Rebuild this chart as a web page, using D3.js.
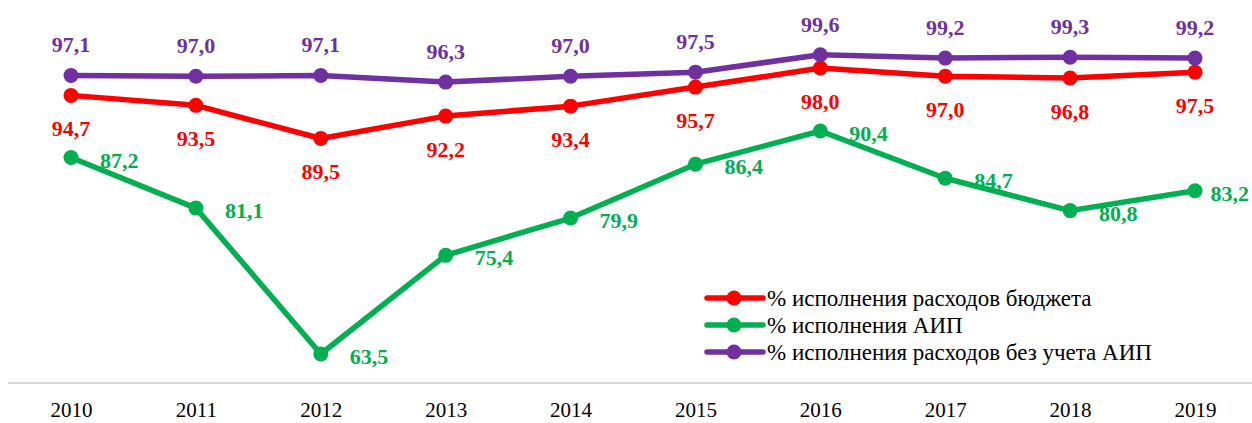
<!DOCTYPE html>
<html>
<head>
<meta charset="utf-8">
<script src="https://cdn.jsdelivr.net/npm/d3@7"></script>
<style>
  body { margin: 0; background: #fff; }
  svg { display: block; }
  svg text { font-family: "Liberation Serif", "DejaVu Serif", "Times New Roman", serif; }
</style>
</head>
<body>
<div id="chart"></div>
<script>
const years = ["2010", "2011", "2012", "2013", "2014", "2015", "2016", "2017", "2018", "2019"];
const budgetValues = [94.7, 93.5, 89.5, 92.2, 93.4, 95.7, 98.0, 97.0, 96.8, 97.5];
const aipValues = [87.2, 81.1, 63.5, 75.4, 79.9, 86.4, 90.4, 84.7, 80.8, 83.2];
const noAipValues = [97.1, 97.0, 97.1, 96.3, 97.0, 97.5, 99.6, 99.2, 99.3, 99.2];
const seriesNames = [
  "% исполнения расходов бюджета",
  "% исполнения АИП",
  "% исполнения расходов без учета АИП",
];

const width = 1252;
const height = 423;
const padding = { top: 10, bottom: 40, left: 8 };

const series = [
  { name: seriesNames[0], values: budgetValues, color: "#ff0000", pos: "below" },
  { name: seriesNames[1], values: aipValues, color: "#00b050", pos: "right" },
  { name: seriesNames[2], values: noAipValues, color: "#7030a0", pos: "above" },
];

const svg = d3
  .select("#chart")
  .append("svg")
  .attr("width", width)
  .attr("height", height);

const x = d3
  .scalePoint()
  .domain(years)
  .range([71, 1195]);

const y = d3
  .scaleLinear()
  .domain([60, 105])
  .range([height - padding.bottom, padding.top]);

// ось X
svg
  .append("line")
  .attr("x1", padding.left)
  .attr("x2", width)
  .attr("y1", y(60))
  .attr("y2", y(60))
  .attr("stroke", "#d9d9d9")
  .attr("stroke-width", 2);

const xAxis = d3.axisBottom(x).tickSize(0).tickPadding(0);
const gx = svg
  .append("g")
  .attr("transform", `translate(0,${y(60)})`)
  .call(xAxis);
gx.attr("font-family", null);
gx.select(".domain").remove();
gx.selectAll("text")
  .attr("dy", null)
  .attr("y", 34)
  .attr("fill", "#000")
  .attr("font-size", "21px");

const line = d3
  .line()
  .x((d, i) => x(years[i]))
  .y((d) => y(d));

series.forEach(function (s) {
  svg
    .append("path")
    .datum(s.values)
    .attr("fill", "none")
    .attr("stroke", s.color)
    .attr("stroke-width", 5.5)
    .attr("stroke-linejoin", "round")
    .attr("d", line);

  svg
    .append("g")
    .selectAll("circle")
    .data(s.values)
    .enter()
    .append("circle")
    .attr("cx", (d, i) => x(years[i]))
    .attr("cy", (d) => y(d))
    .attr("r", 7.5)
    .attr("fill", s.color);

  svg
    .append("g")
    .selectAll("text")
    .data(s.values)
    .enter()
    .append("text")
    .attr("text-anchor", s.pos === "right" ? "start" : "middle")
    .attr("fill", s.color)
    .attr("font-weight", "bold")
    .attr("font-size", "22px")
    .text((d) => d.toFixed(1).replace(".", ","))
    .attr("y", function (d) {
      if (s.pos === "above") return y(d) - 23;
      if (s.pos === "below") return y(d) + 41;
      return y(d) + 10;
    })
    .attr("x", function (d, i) {
      if (s.pos !== "right") return x(years[i]);
      // последняя подпись прижимается к краю
      const w = this.getComputedTextLength();
      return Math.min(x(years[i]) + 29, width - w - 3);
    });
});

// легенда
const legend = svg
  .append("g")
  .attr("transform", "translate(707,298)");

series.forEach(function (s, i) {
  const g = legend.append("g").attr("transform", `translate(0,${i * 27})`);
  g.append("line")
    .attr("x1", 0)
    .attr("x2", 56)
    .attr("stroke", s.color)
    .attr("stroke-width", 5.5)
    .attr("stroke-linecap", "round");
  g.append("circle").attr("cx", 27).attr("r", 7.5).attr("fill", s.color);
  g.append("text")
    .attr("x", 60)
    .attr("y", 8)
    .attr("fill", "#000")
    .attr("font-size", "23px")
    .text(s.name);
});
</script>
</body>
</html>
